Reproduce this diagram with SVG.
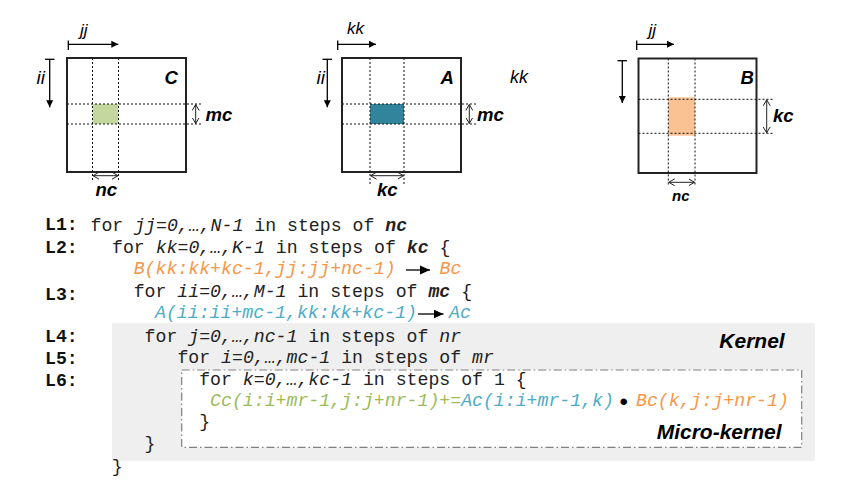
<svg xmlns="http://www.w3.org/2000/svg" width="861" height="500" viewBox="0 0 861 500">
<style>
.mat{fill:none;stroke:#222;stroke-width:2}
.dot{stroke:#111;stroke-width:1;stroke-dasharray:2,2;fill:none}
.lbl{font-family:"Liberation Sans",Arial,sans-serif;font-style:italic;fill:#000}
.big{font-size:18.5px;font-weight:bold}
.sm{font-size:17px}
.arr{stroke:#000;stroke-width:1.3;fill:none}
.dbl{stroke:#222;stroke-width:1;fill:none}
.code{font-family:"Liberation Mono","Courier New",monospace;font-size:18.2px;fill:#222}
.ln{font-weight:bold;fill:#111}
.i{font-style:italic}
.bi{font-style:italic;font-weight:bold}
.or{fill:#f79646}
.bl{fill:#4bacc6}
.gr{fill:#9bbb59}
.ttl{font-family:"Liberation Sans",Arial,sans-serif;font-style:italic;font-weight:bold;font-size:21px;fill:#000}
</style>
<defs>
<marker id="tri" markerWidth="8" markerHeight="8" refX="7" refY="4" orient="auto" markerUnits="userSpaceOnUse">
<path d="M0,0.5 L7,4 L0,7.5 Z" fill="#000"/>
</marker>
<marker id="tri2" markerWidth="12" markerHeight="10" refX="10" refY="5" orient="auto" markerUnits="userSpaceOnUse">
<path d="M0,0.5 L10,5 L0,9.5 Z" fill="#000"/>
</marker>
<marker id="chev" markerWidth="8" markerHeight="8" refX="6" refY="4" orient="auto-start-reverse" markerUnits="userSpaceOnUse">
<path d="M0,0.5 L6,4 L0,7.5" fill="none" stroke="#222" stroke-width="1"/>
</marker>
</defs>
<rect width="861" height="500" fill="#fff"/>

<g id="matrix-C">
<rect x="92.5" y="104" width="26" height="20" fill="#c4d79e"/>
<rect class="mat" x="67" y="58" width="119" height="114"/>
<line class="dot" x1="92.5" y1="58" x2="92.5" y2="180"/>
<line class="dot" x1="118.5" y1="58" x2="118.5" y2="180"/>
<line class="dot" x1="67" y1="104" x2="202" y2="104"/>
<line class="dot" x1="67" y1="124" x2="202" y2="124"/>
<text class="lbl sm" x="80" y="35.5">jj</text>
<text class="lbl" x="36.5" y="84" font-size="19">ii</text>
<text class="lbl big" x="164.5" y="83.5">C</text>
<text class="lbl big" x="205.5" y="121" font-size="19">mc</text>
<text class="lbl big" x="95.5" y="196">nc</text>
</g>

<g id="matrix-A">
<rect x="370" y="104" width="34" height="20" fill="#31849b"/>
<rect class="mat" x="342" y="58" width="119" height="114"/>
<line class="dot" x1="370" y1="58" x2="370" y2="185"/>
<line class="dot" x1="404" y1="58" x2="404" y2="185"/>
<line class="dot" x1="342" y1="104" x2="477" y2="104"/>
<line class="dot" x1="342" y1="124" x2="477" y2="124"/>
<text class="lbl sm" x="347" y="34">kk</text>
<text class="lbl" x="316.5" y="84" font-size="19">ii</text>
<text class="lbl big" x="440.5" y="83.5">A</text>
<text class="lbl" x="510" y="83" font-size="18">kk</text>
<text class="lbl big" x="477" y="121">mc</text>
<text class="lbl big" x="377" y="196">kc</text>
</g>

<g id="matrix-B">
<rect x="668.3" y="97.3" width="26.7" height="38.4" fill="#fac193"/>
<rect class="mat" x="638.5" y="58.5" width="118" height="114.5"/>
<line class="dot" x1="668.3" y1="58.5" x2="668.3" y2="186"/>
<line class="dot" x1="695" y1="58.5" x2="695" y2="186"/>
<line class="dot" x1="638.5" y1="99.3" x2="773" y2="99.3"/>
<line class="dot" x1="638.5" y1="133.3" x2="773" y2="133.3"/>
<text class="lbl sm" x="648.5" y="35.5">jj</text>
<text class="lbl big" x="740.5" y="84">B</text>
<text class="lbl big" x="773" y="122">kc</text>
<text class="lbl" x="672" y="201" font-size="15" font-weight="bold">nc</text>
</g>

<g id="connectors">
<line class="arr" x1="68.3" y1="44.3" x2="118.3" y2="44.3" marker-end="url(#tri)"/>
<line class="arr" x1="68.3" y1="40.5" x2="68.3" y2="50"/>
<line class="arr" x1="49.7" y1="59.3" x2="49.7" y2="107.3" marker-end="url(#tri)"/>
<line class="arr" x1="45" y1="59.3" x2="54.5" y2="59.3"/>
<line class="dbl" x1="195.7" y1="104.5" x2="195.7" y2="123.5" marker-start="url(#chev)" marker-end="url(#chev)"/>
<line class="dbl" x1="93" y1="175.7" x2="118" y2="175.7" marker-start="url(#chev)" marker-end="url(#chev)"/>

<line class="arr" x1="337.7" y1="44.3" x2="376" y2="44.3" marker-end="url(#tri)"/>
<line class="arr" x1="337.7" y1="40.5" x2="337.7" y2="50"/>
<line class="arr" x1="327.3" y1="59.3" x2="327.3" y2="107.3" marker-end="url(#tri)"/>
<line class="arr" x1="322.5" y1="59.3" x2="332" y2="59.3"/>
<line class="dbl" x1="469.3" y1="104.5" x2="469.3" y2="123.5" marker-start="url(#chev)" marker-end="url(#chev)"/>
<line class="dbl" x1="370.5" y1="175.7" x2="403.5" y2="175.7" marker-start="url(#chev)" marker-end="url(#chev)"/>

<line class="arr" x1="636.7" y1="44.3" x2="674" y2="44.3" marker-end="url(#tri)"/>
<line class="arr" x1="636.7" y1="40.5" x2="636.7" y2="50"/>
<line class="arr" x1="622.3" y1="60.7" x2="622.3" y2="103" marker-end="url(#tri)"/>
<line class="arr" x1="617.5" y1="60.7" x2="627" y2="60.7"/>
<line class="dbl" x1="766.7" y1="99.8" x2="766.7" y2="132.8" marker-start="url(#chev)" marker-end="url(#chev)"/>
<line class="dbl" x1="668.8" y1="182.3" x2="694.5" y2="182.3" marker-start="url(#chev)" marker-end="url(#chev)"/>

<line class="arr" x1="406" y1="270" x2="430" y2="270" stroke-width="2" marker-end="url(#tri2)"/>
<line class="arr" x1="418" y1="314" x2="443.5" y2="314" stroke-width="2" marker-end="url(#tri2)"/>
</g>

<g id="kernel">
<rect x="112" y="323" width="703" height="138" fill="#efefef"/>
<text class="ttl" x="719.3" y="348.3">Kernel</text>
</g>

<g id="micro-kernel">
<rect x="181.7" y="370" width="620" height="77.3" fill="#fff" stroke="#808080" stroke-width="1.2" stroke-dasharray="8,3,1.5,3"/>
<text class="ttl" x="656.7" y="439">Micro-kernel</text>
</g>

<g id="code">
<text class="code ln" x="45" y="229.8">L1:</text>
<text class="code ln" x="45" y="252.7">L2:</text>
<text class="code ln" x="45" y="299.5">L3:</text>
<text class="code ln" x="45" y="342.3">L4:</text>
<text class="code ln" x="45" y="364.3">L5:</text>
<text class="code ln" x="45" y="385.7">L6:</text>

<text class="code" x="90.5" y="230.5">for <tspan class="i">jj=0,…,N-1</tspan> in steps of <tspan class="bi">nc</tspan></text>
<text class="code" x="112" y="252.7">for <tspan class="i">kk=0,…,K-1</tspan> in steps of <tspan class="bi">kc</tspan> {</text>
<text class="code i or" x="133.7" y="274">B(kk:kk+kc-1,jj:jj+nc-1)</text>
<text class="code i or" x="439.5" y="274">Bc</text>
<text class="code" x="133.7" y="296.5">for <tspan class="i">ii=0,…,M-1</tspan> in steps of <tspan class="bi">mc</tspan> {</text>
<text class="code i bl" x="155" y="318">A(ii:ii+mc-1,kk:kk+kc-1)</text>
<text class="code i bl" x="449" y="318">Ac</text>
<text class="code" x="144.6" y="341.5">for <tspan class="i">j=0,…,nc-1</tspan> in steps of <tspan class="i">nr</tspan></text>
<text class="code" x="177.4" y="363">for <tspan class="i">i=0,…,mc-1</tspan> in steps of <tspan class="i">mr</tspan></text>
<text class="code" x="199.2" y="384.7">for <tspan class="i">k=0,…,kc-1</tspan> in steps of 1 {</text>
<text class="code i" x="210.1" y="405.5"><tspan class="gr">Cc(i:i+mr-1,j:j+nr-1)+=</tspan><tspan class="bl">Ac(i:i+mr-1,k)</tspan></text>
<text x="623.7" y="409.5" text-anchor="middle" font-family="Liberation Sans,Arial,sans-serif" font-size="24" fill="#000">•</text>
<text class="code i or" x="636" y="405.5">Bc(k,j:j+nr-1)</text>
<text class="code" x="199.2" y="426.7">}</text>
<text class="code" x="144.6" y="448.5">}</text>
<text class="code" x="111.8" y="471.5">}</text>
</g>
</svg>
